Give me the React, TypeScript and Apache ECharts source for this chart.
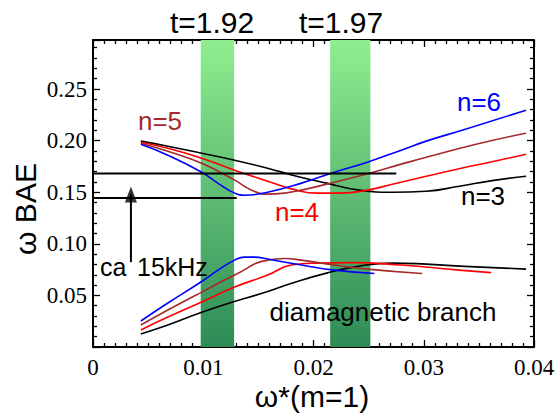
import React, { useEffect, useRef } from "react";
import * as echarts from "echarts";

// ---- data (x = ω*(m=1), y = ω BAE) ----
const xTickLabels = ["0", "0.01", "0.02", "0.03", "0.04"];
const yTickLabels = ["0.05", "0.10", "0.15", "0.20", "0.25"];

const n6Upper = [[0.00434, 0.1965], [0.00679, 0.1859], [0.00986, 0.1694], [0.01131, 0.1588], [0.01285, 0.1491], [0.01376, 0.1471], [0.01584, 0.15], [0.01891, 0.1588], [0.0219, 0.1694], [0.02489, 0.1791], [0.02796, 0.1907], [0.03023, 0.1995], [0.03348, 0.2101], [0.03928, 0.2294]];
const n5Upper = [[0.00434, 0.1975], [0.00679, 0.1897], [0.00986, 0.1781], [0.01285, 0.1617], [0.01439, 0.152], [0.01584, 0.1481], [0.01738, 0.1491], [0.01891, 0.152], [0.0219, 0.1597], [0.02507, 0.1684], [0.02796, 0.1772], [0.03023, 0.1839], [0.03475, 0.1965], [0.03928, 0.2072]];
const n4Upper = [[0.00434, 0.1985], [0.00679, 0.1926], [0.00986, 0.183], [0.01285, 0.1713], [0.01584, 0.1607], [0.0181, 0.153], [0.02036, 0.1491], [0.02235, 0.1491], [0.02489, 0.152], [0.02715, 0.1578], [0.03023, 0.1655], [0.03321, 0.1728], [0.0362, 0.1795], [0.03928, 0.1868]];
const n3Upper = [[0.00434, 0.1995], [0.00679, 0.1946], [0.00986, 0.1878], [0.01285, 0.181], [0.01584, 0.1733], [0.0181, 0.1665], [0.02118, 0.1588], [0.02416, 0.152], [0.02715, 0.15], [0.03023, 0.151], [0.03321, 0.1558], [0.0362, 0.1612], [0.03928, 0.1655]];

const n6Lower = [[0.00434, 0.0252], [0.00679, 0.0426], [0.00986, 0.0635], [0.01131, 0.0742], [0.01285, 0.0842], [0.01376, 0.0871], [0.01466, 0.0871], [0.01584, 0.0852], [0.01891, 0.0794], [0.0219, 0.0745], [0.02552, 0.0712]];
const n5Lower = [[0.00434, 0.0213], [0.00679, 0.0358], [0.00986, 0.0532], [0.01285, 0.0697], [0.01584, 0.0842], [0.01738, 0.0857], [0.01891, 0.0842], [0.0219, 0.0794], [0.02489, 0.0755], [0.02986, 0.0712]];
const n4Lower = [[0.00434, 0.0165], [0.00679, 0.029], [0.00986, 0.0436], [0.01285, 0.0581], [0.01584, 0.0697], [0.01801, 0.0794], [0.02036, 0.0813], [0.02344, 0.0818], [0.02796, 0.0794], [0.03321, 0.0745], [0.03611, 0.0721]];
const n3Lower = [[0.00434, 0.0126], [0.00679, 0.0213], [0.00968, 0.0329], [0.01267, 0.0436], [0.01511, 0.0513], [0.0181, 0.062], [0.02118, 0.0716], [0.02416, 0.0784], [0.02715, 0.0813], [0.03023, 0.0803], [0.03321, 0.0784], [0.03928, 0.0755]];

const refLineUpper = [[0, 0.1682], [0.02751, 0.1682]];
const refLineLower = [[0, 0.1445], [0.01303, 0.1445]];
const arrowShaft = [[0.00344, 0.0823], [0.00344, 0.1479]];
const arrowHead = [[0.00344, 0.1479]];

const bands = [[0.00977, 0.0128], [0.02151, 0.02516]];

const SANS = '"Liberation Sans", Arial, Helvetica, sans-serif';
const SERIF = '"Liberation Serif", "Times New Roman", Times, serif';

export default function App() {
  const ref = useRef<HTMLDivElement>(null);
  useEffect(() => {
    const chart = echarts.init(ref.current!, null, { renderer: "svg" });

    const curve = (data: number[][], color: string, extra: any = {}) => ({
      type: "line",
      data,
      smooth: 0.5,
      symbol: "none",
      showSymbol: false,
      silent: true,
      z: 3,
      lineStyle: { color, width: 1.6 },
      ...extra,
    });

    const tickStyle = { color: "#000", width: 1.3 };
    const xAxisBase = (position: string, showLabel: boolean) => ({
      type: "value",
      position,
      min: 0,
      max: 0.04,
      interval: 0.01,
      axisLine: { show: true, onZero: false, lineStyle: { color: "#000", width: 2 } },
      axisTick: { show: true, inside: true, length: 7, lineStyle: tickStyle },
      minorTick: { show: true, splitNumber: 10, length: 4, lineStyle: tickStyle },
      splitLine: { show: false },
      axisLabel: {
        show: showLabel,
        fontFamily: SERIF,
        fontSize: 23,
        color: "#000",
        margin: 9,
        formatter: (v: number) => {
          const i = Math.round(v / 0.01);
          return Math.abs(v / 0.01 - i) < 1e-6 ? xTickLabels[i] ?? "" : "";
        },
      },
    });
    const yAxisBase = (position: string, showLabel: boolean) => ({
      type: "value",
      position,
      min: 0,
      max: 0.2975,
      interval: 0.05,
      axisLine: { show: true, onZero: false, lineStyle: { color: "#000", width: 2 } },
      axisTick: { show: true, inside: true, length: 7, lineStyle: tickStyle },
      minorTick: { show: true, splitNumber: 5, length: 4, lineStyle: tickStyle },
      splitLine: { show: false },
      axisLabel: {
        show: showLabel,
        fontFamily: SERIF,
        fontSize: 23,
        color: "#000",
        margin: 6,
        formatter: (v: number) => {
          const i = Math.round(v / 0.05);
          return Math.abs(v / 0.05 - i) < 1e-6 && i > 0 ? yTickLabels[i - 1] ?? "" : "";
        },
      },
    });

    const bandColor = new echarts.graphic.LinearGradient(0, 0, 0, 1, [
      { offset: 0, color: "#90EE90" },
      { offset: 1, color: "#2E8B57" },
    ]);

    const text = (t: string, x: number, y: number, size: number, color = "#000", align = "center", extra: any = {}) => ({
      type: "text",
      x,
      y,
      z: 100,
      zlevel: 0,
      silent: true,
      style: {
        text: t,
        fontFamily: SANS,
        fontSize: size,
        fill: color,
        textAlign: align,
        textVerticalAlign: "middle",
      },
      ...extra,
    });

    chart.setOption({
      animation: false,
      backgroundColor: "#fff",
      grid: { left: 93, right: 26, top: 40, bottom: 68, containLabel: false },
      xAxis: [xAxisBase("bottom", true), xAxisBase("top", false)],
      yAxis: [yAxisBase("left", true), yAxisBase("right", false)],
      series: [
        {
          type: "line",
          data: [],
          silent: true,
          z: 1,
          markArea: {
            silent: true,
            z: 1,
            itemStyle: { color: bandColor, opacity: 1 },
            data: bands.map((b) => [{ xAxis: b[0] }, { xAxis: b[1] }]),
          },
        },
        curve(n3Upper, "#000000"),
        curve(n4Upper, "#FF0000"),
        curve(n5Upper, "#A52A2A"),
        curve(n6Upper, "#0000FF"),
        curve(n3Lower, "#000000"),
        curve(n4Lower, "#FF0000"),
        curve(n5Lower, "#A52A2A"),
        curve(n6Lower, "#0000FF"),
        curve(refLineUpper, "#000000", { smooth: false, lineStyle: { color: "#000", width: 2 } }),
        curve(refLineLower, "#000000", { smooth: false, lineStyle: { color: "#000", width: 2 } }),
        curve(arrowShaft, "#000000", { smooth: false, lineStyle: { color: "#000", width: 2 } }),
        {
          type: "scatter",
          data: arrowHead,
          symbol: "triangle",
          symbolSize: [12, 16],
          silent: true,
          z: 4,
          itemStyle: { color: "#000" },
        },
      ],
      graphic: [
        text("t=1.92", 212, 22, 30),
        text("t=1.97", 341, 22, 30),
        text("n=5", 160, 121, 26, "#A52A2A"),
        text("n=6", 479, 102, 26, "#0000FF"),
        text("n=4", 297, 212, 26, "#FF0000"),
        text("n=3", 483, 196, 26, "#000000"),
        text("diamagnetic branch", 383, 312, 26),
        text("ca", 100, 267, 25, "#000", "left"),
        text("15kHz", 137, 267, 25, "#000", "left"),
        text("ω BAE", 25, 209, 30, "#000", "center", { rotation: Math.PI / 2 }),
        text("ω*(m=1)", 312, 396, 30),
      ],
    });
    return () => chart.dispose();
  }, []);
  return (
    <div
      ref={ref}
      style={{ position: "fixed", left: 0, top: 0, width: 560, height: 415, background: "#fff" }}
    />
  );
}
